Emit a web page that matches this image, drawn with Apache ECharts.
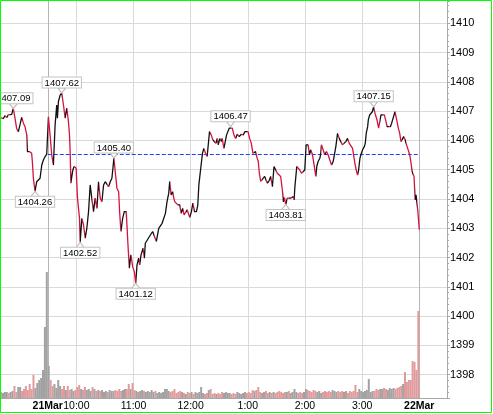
<!DOCTYPE html>
<html><head><meta charset="utf-8">
<script src="https://cdn.jsdelivr.net/npm/echarts@6/dist/echarts.min.js"></script>
<style>html,body{margin:0;padding:0;background:#fff}#c{width:493px;height:414px}</style>
</head><body><div id="c"></div>
<script>
// minutes since midnight (21 Mar), price
const priceTimes = [521.0,523.3,525.1,526.8,528.6,530.3,532.1,533.8,535.6,537.3,539.1,540.8,542.6,544.4,546.1,547.2,547.9,548.6,550.7,553.1,553.8,554.9,556.6,558.4,560.1,561.9,563.7,565.4,567.2,568.9,570.7,572.4,574.2,575.9,577.7,579.4,580.1,581.2,583.0,584.7,586.5,588.2,590.0,591.7,592.8,593.5,594.2,596.3,597.7,599.8,601.2,603.3,604.0,605.8,607.5,609.3,611.0,612.8,614.5,616.3,618.0,619.8,621.6,623.3,625.1,626.8,628.6,630.3,632.1,633.8,635.6,637.3,638.4,639.4,640.8,642.6,644.4,645.4,646.8,648.6,650.3,652.4,653.1,654.2,655.6,657.3,659.1,660.9,662.3,663.7,665.4,666.5,667.9,670.0,671.4,672.4,674.2,677.7,680.1,681.9,684.0,686.5,688.2,690.0,691.7,693.5,695.2,697.0,698.0,699.4,701.2,702.3,703.3,705.1,706.5,708.6,710.0,711.7,713.1,714.9,716.3,718.0,719.1,720.8,722.3,724.0,726.1,727.5,728.6,730.3,731.4,732.4,733.8,735.6,737.3,738.7,739.8,741.6,743.3,745.1,746.5,747.9,748.9,750.7,752.1,753.1,754.9,756.3,757.7,759.1,760.5,761.9,763.7,765.4,767.2,768.9,771.0,773.1,775.2,777.0,778.7,780.2,781.9,783.7,785.4,786.5,788.2,790.0,791.0,792.1,793.5,795.2,797.7,799.1,800.5,802.3,804.0,805.8,807.5,809.3,811.0,812.8,814.5,816.3,817.3,818.5,819.8,821.5,823.3,825.0,826.8,827.9,828.6,829.3,830.3,831.4,832.8,834.5,836.3,838.0,839.8,841.2,843.3,844.7,846.1,847.9,849.6,851.4,852.4,853.8,855.6,856.6,857.3,859.1,860.8,862.6,864.3,866.1,867.9,869.6,871.4,872.4,874.2,875.9,877.7,879.4,881.2,882.9,884.7,886.5,888.2,890.0,891.7,892.4,893.8,895.2,896.3,897.7,898.7,900.5,902.3,903.3,904.3,905.8,906.5,907.9,909.3,910.7,912.1,913.5,915.6,917.3,918.4,919.8,921.5,923.3,925.1,926.1,927.9,929.6,931.0,932.8,934.5,936.3,938.0,939.4,940.8,942.2,943.6,945.1,946.5,947.2,948.6,950.0,951.4,952.4,953.5,954.5,955.6,956.6,957.7,958.4,960.0];
const priceValues = [1406.78,1406.74,1406.85,1406.78,1406.87,1406.82,1406.89,1407.09,1406.76,1406.41,1406.30,1406.53,1406.79,1406.59,1406.47,1406.30,1406.19,1405.62,1405.62,1405.56,1405.28,1404.71,1404.26,1404.59,1404.65,1404.71,1405.16,1405.33,1405.45,1405.53,1406.81,1406.19,1405.50,1405.16,1406.53,1407.21,1406.76,1407.33,1407.55,1407.62,1407.21,1406.76,1407.10,1406.64,1406.19,1405.62,1404.54,1404.99,1405.11,1405.05,1404.03,1403.34,1402.52,1403.34,1403.12,1402.66,1403.00,1403.57,1404.48,1404.54,1403.57,1404.03,1403.68,1404.59,1404.03,1403.91,1404.48,1404.59,1404.65,1404.42,1404.59,1404.71,1405.05,1405.40,1404.94,1404.37,1404.25,1403.57,1402.89,1403.34,1403.57,1403.57,1403.12,1402.43,1401.64,1402.09,1401.69,1401.52,1401.12,1401.75,1401.98,1401.75,1402.09,1402.32,1401.98,1402.49,1402.49,1402.77,1402.89,1402.95,1402.55,1403.00,1403.06,1403.17,1403.23,1403.51,1403.91,1404.20,1404.60,1404.14,1404.25,1404.03,1403.91,1403.86,1403.80,1403.80,1403.51,1403.68,1403.46,1403.40,1403.63,1403.57,1403.37,1403.57,1403.86,1403.57,1403.57,1403.80,1404.48,1404.54,1405.28,1405.56,1405.73,1405.56,1405.45,1405.51,1406.30,1406.19,1406.02,1406.07,1405.90,1406.07,1405.85,1406.07,1405.96,1406.07,1405.73,1405.96,1406.19,1406.24,1406.42,1406.47,1406.42,1406.19,1406.07,1406.21,1406.13,1406.21,1406.19,1406.30,1406.35,1406.30,1406.07,1405.90,1405.56,1405.51,1405.62,1405.37,1405.28,1404.88,1404.60,1404.54,1404.77,1404.82,1404.54,1404.62,1404.77,1404.42,1405.11,1405.14,1404.88,1404.82,1404.77,1404.30,1403.90,1404.05,1403.81,1404.03,1403.97,1404.03,1403.97,1404.08,1403.97,1404.37,1404.42,1405.11,1405.05,1404.99,1404.88,1404.82,1404.99,1405.85,1405.85,1405.51,1405.68,1405.51,1405.16,1404.77,1405.11,1405.28,1405.39,1405.56,1405.85,1405.79,1405.51,1405.62,1405.51,1405.33,1405.16,1405.28,1405.28,1405.79,1406.24,1406.07,1406.07,1405.85,1405.79,1405.96,1406.07,1405.90,1405.85,1405.73,1405.68,1405.22,1404.99,1404.82,1404.99,1405.39,1405.51,1405.68,1405.79,1405.90,1406.24,1406.47,1406.70,1406.87,1406.93,1406.98,1407.15,1406.93,1406.70,1406.42,1406.36,1406.87,1406.93,1406.87,1406.64,1406.47,1406.50,1406.47,1406.59,1406.59,1406.98,1406.70,1406.42,1406.25,1405.96,1405.90,1406.13,1406.02,1406.07,1405.79,1405.73,1405.51,1405.22,1404.94,1404.99,1404.77,1403.97,1404.14,1404.20,1403.63,1402.95];

// 2-minute volume bars starting at 8:41
const volumeStart = 521;
const volumeStep = 2;
const volumeValues = [
 6,5,6,6,5,6,7,12,6,11,
 11,7,9,12,8,14,9,23,10,15,
 18,20,28,71,126,32,18,12,14,10,
 18,12,9,12,8,12,8,9,7,8,
 11,13,9,8,11,8,9,7,11,9,
 7,8,7,8,6,7,6,8,7,7,
 8,7,9,7,8,9,9,14,9,15,
 8,7,6,7,8,7,6,7,6,8,
 6,7,5,6,5,6,9,9,7,6,
 7,9,5,6,7,6,5,4,6,5,
 6,4,6,5,6,11,5,4,5,8,
 9,4,5,4,5,4,6,5,6,5,
 5,4,5,4,6,5,4,5,6,5,
 6,5,8,7,8,11,6,5,6,7,
 5,6,5,6,5,6,7,6,5,6,
 6,7,5,6,9,6,5,6,5,6,
 9,8,7,6,8,7,6,7,5,6,
 7,6,7,6,8,7,6,7,6,7,
 6,7,5,7,6,7,13,6,9,7,
 6,7,8,19,6,7,7,9,8,9,
 9,10,9,8,10,9,10,9,10,11,
 12,14,26,16,18,18,37,36,28,87];

const tickTimes = [570, 600, 660, 720, 780, 840, 900, 960];
const tickLabels = ['21Mar', '10:00', '11:00', '12:00', '1:00', '2:00', '3:00', '22Mar'];
const boldTicks = ['21Mar', '22Mar'];

const prevClose = 1405.52;

const calloutTimes = [533.8, 556.6, 584.7, 604.0, 639.4, 662.3, 761.9, 819.8, 912.1];
const calloutValues = [1407.09, 1404.26, 1407.62, 1402.52, 1405.40, 1401.12, 1406.47, 1403.81, 1407.15];
const calloutSide = ['top', 'bottom', 'top', 'bottom', 'top', 'bottom', 'top', 'bottom', 'top'];

// ---- build ----
const RED = '#d4123e', BLACK = '#111111';
const priceData = priceTimes.map((t, i) => [t, priceValues[i]]);
const pieces = [];
for (let i = 0; i < priceTimes.length - 1; i++) {
  const p = { gte: priceTimes[i], color: priceValues[i + 1] >= priceValues[i] ? BLACK : RED };
  if (i < priceTimes.length - 2) p.lt = priceTimes[i + 1]; else p.lte = priceTimes[i + 1];
  pieces.push(p);
}
function priceAt(t) {
  if (t <= priceTimes[0]) return priceValues[0];
  for (let i = 1; i < priceTimes.length; i++) {
    if (t <= priceTimes[i]) {
      const a = priceTimes[i - 1], b = priceTimes[i];
      return priceValues[i - 1] + (priceValues[i] - priceValues[i - 1]) * (t - a) / (b - a);
    }
  }
  return priceValues[priceValues.length - 1];
}
const volumeData = volumeValues.map((v, i) => {
  const t = volumeStart + i * volumeStep;
  const up = priceAt(t + volumeStep / 2) >= priceAt(t - volumeStep / 2);
  return { value: [t, v], itemStyle: { color: up ? '#a2a2a2' : '#e09c9c' } };
});
const calloutData = calloutTimes.map((t, i) => {
  const top = calloutSide[i] === 'top';
  return {
    coord: [t, calloutValues[i]], value: calloutValues[i],
    symbol: 'triangle', symbolSize: [8, 5], symbolRotate: top ? 180 : 0,
    symbolOffset: [0, top ? -2.5 : 2.5],
    label: { position: top ? 'top' : 'bottom' }
  };
});
const splitColors = tickLabels.map(l => boldTicks.includes(l) ? '#b4b4b4' : '#dadada');

const chart = echarts.init(document.getElementById('c'), null, { renderer: 'canvas' });
chart.setOption({
  animation: false,
  backgroundColor: '#ffffff',
  textStyle: { fontFamily: 'Liberation Sans' },
  grid: { left: 1, right: 46, top: 1, bottom: 16, containLabel: false },
  visualMap: { show: false, type: 'piecewise', seriesIndex: 0, dimension: 0, pieces: pieces, outOfRange: { color: RED } },
  xAxis: [{
    type: 'value', min: 520.9, max: 989.1,
    axisLine: { show: true, onZero: false, lineStyle: { color: '#a8a8a8' } },
    axisTick: { show: false, customValues: tickTimes },
    axisLabel: {
      customValues: tickTimes, margin: 3, color: '#000', fontSize: 10.5, fontFamily: 'Liberation Sans',
      hideOverlap: false, showMinLabel: true, showMaxLabel: true,
      formatter: v => {
        const i = tickTimes.indexOf(v);
        const s = i >= 0 ? tickLabels[i] : '';
        return boldTicks.includes(s) ? '{b|' + s + '}' : s;
      },
      rich: { b: { fontWeight: 'bold', fontSize: 10.5, color: '#000', fontFamily: 'Liberation Sans' } }
    },
    splitLine: { show: true, lineStyle: { color: splitColors, width: 1 } }
  }],
  yAxis: [{
    type: 'value', position: 'right', min: 1397.204, max: 1410.762, splitNumber: 13,
    axisLine: { show: true, lineStyle: { color: '#a8a8a8' } },
    axisTick: { show: true, length: 3, lineStyle: { color: '#a8a8a8' } },
    minorTick: { show: true, splitNumber: 5, length: 2, lineStyle: { color: '#a8a8a8' } },
    splitLine: { show: true, showMinLine: false, showMaxLine: false, lineStyle: { color: '#dadada' } },
    axisLabel: {
      color: '#000', fontSize: 11, fontFamily: 'Liberation Sans', margin: 3,
      showMinLabel: false, showMaxLabel: false,
      formatter: v => (Math.abs(v - Math.round(v)) < 1e-6 ? String(Math.round(v)) : '')
    }
  }, {
    type: 'value', min: 0, max: 397, show: false
  }],
  series: [{
    type: 'line', data: priceData, showSymbol: false, symbol: 'none', z: 4,
    lineStyle: { width: 1.3 },
    markPoint: {
      silent: true,
      itemStyle: { color: '#ffffff', borderColor: '#bdbdbd', borderWidth: 1 },
      label: {
        show: true, distance: 0, color: '#000', fontSize: 9.5, fontFamily: 'Liberation Sans',
        lineHeight: 9, backgroundColor: '#ffffff', borderColor: '#c4c4c4', borderWidth: 1,
        padding: [1, 2, 0, 2],
        formatter: p => Number(p.value).toFixed(2)
      },
      data: calloutData
    }
  }, {
    type: 'bar', xAxisIndex: 0, yAxisIndex: 1, data: volumeData, barWidth: 2, z: 2, silent: true
  }, {
    type: 'line', z: 3, silent: true, showSymbol: false, symbol: 'none',
    data: [[tickTimes[0], prevClose], [tickTimes[tickTimes.length - 1], prevClose]],
    lineStyle: { type: [4, 2], color: '#1c3df5', width: 1 },
    itemStyle: { color: '#1c3df5' }
  }],
  graphic: [{
    type: 'rect', silent: true, z: 100,
    shape: { x: 0.5, y: 0.5, width: 491, height: 412 },
    style: { fill: 'none', stroke: '#00ff00', lineWidth: 1 }
  }]
});
</script></body></html>
